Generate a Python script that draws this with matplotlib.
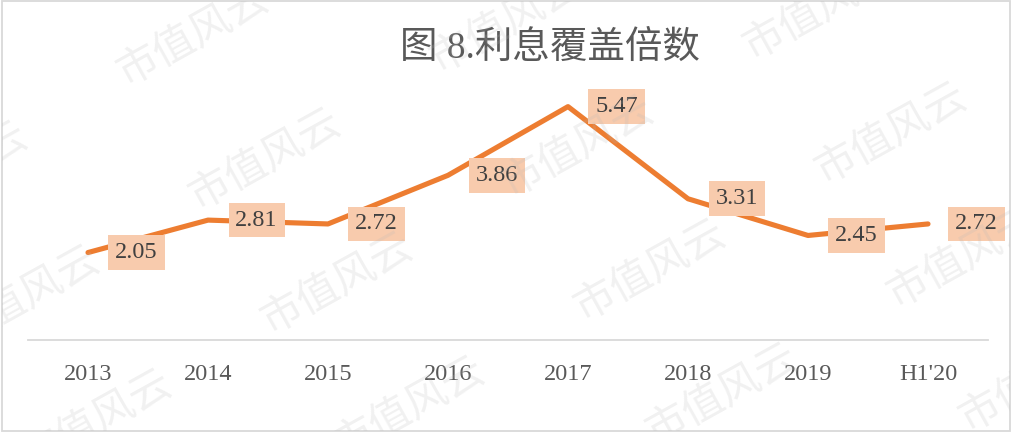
import matplotlib
matplotlib.use("Agg")
import matplotlib.pyplot as plt
from matplotlib.patches import Rectangle

plt.rcParams['font.family'] = ['Liberation Serif', 'Noto Sans CJK SC', 'DejaVu Sans']

# data
periods = ['2013', '2014', '2015', '2016', '2017', '2018', '2019', "H1'20"]
coverage = [2.05, 2.81, 2.72, 3.86, 5.47, 3.31, 2.45, 2.72]
title = '图 8.利息覆盖倍数'
watermark = '市值风云'

W, H = 1017, 438
LINE = '#ED7D31'
BOX = '#F8CBAD'
GRID = '#D9D9D9'

fig = plt.figure(figsize=(W / 100, H / 100), dpi=100)
ax = fig.add_axes([28 / W, 98 / H, 960 / W, 256 / H])

x = list(range(len(periods)))
ax.plot(x, coverage, color=LINE, lw=3.7, solid_capstyle='round',
        solid_joinstyle='round', zorder=3)

for xi, v in zip(x, coverage):
    ax.annotate(f'{v:.2f}', (xi, v), xytext=(35, 0), textcoords='offset points',
                ha='center', va='center', fontsize=17.5, color='#404040',
                bbox=dict(boxstyle='square,pad=0.28', fc=BOX, ec='none'),
                zorder=4)

ax.set_xlim(-0.5, len(periods) - 0.5)
ax.set_ylim(0, 6)
ax.set_xticks(x)
ax.set_xticklabels(periods, fontsize=17.5, color='#595959')
ax.tick_params(axis='x', length=0, pad=17)
ax.set_yticks([])
for s in ['left', 'right', 'top']:
    ax.spines[s].set_visible(False)
ax.spines['bottom'].set_color(GRID)
ax.spines['bottom'].set_linewidth(1.3)
ax.patch.set_alpha(0)

fig.text(550 / W, 1 - 48 / H, title, ha='center', va='center',
         fontsize=27, color='#595959')

# watermark lattice, clipped to the frame
frame = Rectangle((2 / W, 1 - 431 / H), 1008 / W, 430 / H,
                  transform=fig.transFigure, fill=False, ec=GRID, lw=1.3)
ox, oy = 265, 160
for i in range(-2, 4):
    for j in range(-2, 4):
        px = ox + 313 * i + 72 * j
        py = oy - 13 * i + 124 * j
        if -120 < px < W + 120 and -80 < py < H + 80:
            t = fig.text(px / W, 1 - py / H, watermark, ha='center', va='center',
                         rotation=29, rotation_mode='anchor', fontsize=30,
                         fontweight='light', color='#b8b8b8', alpha=0.2,
                         family=['Noto Sans CJK SC'], zorder=10)
            t.set_clip_path(frame)

fig.patches.append(frame)

fig.savefig('out.png', dpi=100)
